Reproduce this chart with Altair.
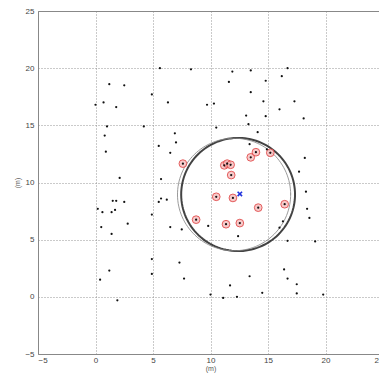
import altair as alt
import pandas as pd

# black dots (all nodes)
dot_x = [0.0, 0.7, 1.2, 2.5, 1.8, 1.0, 0.8, 0.9, 2.1, 0.2, 0.6, 1.5, 1.8, 1.4, 1.7, 2.5, 0.5, 2.8, 1.4, 1.2, 0.4, 1.9,
         4.9, 5.6, 4.2, 6.3, 6.9, 7.0, 5.5, 6.5, 5.7, 4.9, 5.5, 5.7, 6.2, 6.5, 7.5, 4.9, 4.9, 7.3, 7.7,
         8.3, 9.7, 10.3, 10.5, 9.8, 10.0, 11.1, 12.3, 11.7, 13.4, 14.5, 12.4, 13.4, 13.3, 13.1, 14.1, 13.5,
         13.5, 11.9, 11.6, 14.6, 14.8, 14.8, 16.0, 16.2, 16.7, 17.3, 18.1, 18.2, 17.7, 18.3, 18.4, 18.6,
         19.1, 16.7, 16.3, 16.0, 16.4, 16.7, 17.5, 17.5, 19.8, 14.9]
dot_y = [16.8, 17.0, 18.6, 18.5, 16.6, 14.9, 14.1, 12.7, 10.4, 7.7, 7.4, 8.4, 8.4, 7.4, 7.6, 8.3, 6.1, 6.4, 5.5, 2.3, 1.5, -0.3,
         17.7, 20.0, 14.9, 17.0, 14.3, 13.5, 13.2, 12.6, 10.3, 7.2, 8.3, 8.6, 8.5, 6.1, 5.9, 3.3, 2.0, 3.0, 1.6,
         19.9, 16.8, 16.9, 14.8, 6.2, 0.2, -0.1, 0.0, 1.0, 1.8, 0.35, 5.3, 13.35, 15.1, 15.85, 14.4, 17.9,
         19.8, 19.7, 18.8, 17.1, 18.9, 15.8, 16.4, 19.3, 20.0, 17.1, 15.6, 12.15, 10.95, 9.2, 7.7, 6.9,
         4.85, 4.9, 6.6, 6.05, 2.4, 1.6, 1.1, 0.3, 0.2, 12.9]

# nodes inside the estimated region (red circles)
red_x = [7.6, 8.75, 10.5, 11.2, 11.45, 11.75, 11.8, 11.95, 11.35, 12.55, 13.5, 13.95, 15.2, 14.15, 16.45]
red_y = [11.65, 6.75, 8.75, 11.5, 11.65, 11.55, 10.65, 8.65, 6.35, 6.45, 12.2, 12.65, 12.6, 7.8, 8.1]

# estimated position (blue x)
est_x = [12.55]
est_y = [9.0]

# circles: thick black and thin grey
circle_cx = [12.4, 12.05]
circle_cy = [8.95, 8.95]
circle_r = [4.95, 4.92]
circle_color = ["#222222", "#888888"]
circle_width = [2.0, 1.0]

ticks = [-5, 0, 5, 10, 15, 20, 25]

xs = alt.Scale(domain=[-5, 25], nice=False, zero=False)
ys = alt.Scale(domain=[-5, 25], nice=False, zero=False)

axis_common = dict(
    values=ticks, grid=True, gridDash=[1, 2], gridColor="#8a8a8a", gridOpacity=0.9,
    tickSize=0, domain=False, labelFontSize=8, labelColor="#444444",
    titleFontSize=7, titleColor="#555555", titleFontWeight="normal",
    labelFont="Liberation Sans", titleFont="Liberation Sans",
)

xax = alt.Axis(title="(m)", labelPadding=2, titlePadding=0, **axis_common)
yax = alt.Axis(title="(m)", labelPadding=4, titlePadding=4, **axis_common)

dots = pd.DataFrame({"x": dot_x + red_x, "y": dot_y + red_y})
reds = pd.DataFrame({"x": red_x, "y": red_y})
est = pd.DataFrame({"x": est_x, "y": est_y})

base_dots = alt.Chart(dots).mark_circle(size=5, color="#111111", opacity=1).encode(
    x=alt.X("x:Q", scale=xs, axis=xax),
    y=alt.Y("y:Q", scale=ys, axis=yax),
)

layers = []
for cx, cy, r, col, w in zip(circle_cx, circle_cy, circle_r, circle_color, circle_width):
    c = alt.Chart(alt.sequence(0, 6.35, 0.05, as_="t")).transform_calculate(
        cx=f"{cx} + {r} * cos(datum.t)",
        cy=f"{cy} + {r} * sin(datum.t)",
    ).mark_line(color=col, strokeWidth=w, opacity=0.85).encode(
        x=alt.X("cx:Q", scale=xs, axis=xax),
        y=alt.Y("cy:Q", scale=ys, axis=yax),
        order="t:Q",
    )
    layers.append(c)

red_layer = alt.Chart(reds).mark_point(
    shape="circle", size=60, filled=True, fill="#f4b4b4", fillOpacity=0.7,
    stroke="#e04848", strokeWidth=1.0, strokeOpacity=0.85, opacity=1,
).encode(x=alt.X("x:Q", scale=xs, axis=xax), y=alt.Y("y:Q", scale=ys, axis=yax))

est_layer = alt.Chart(est).mark_point(
    shape="M-1,-1L1,1M-1,1L1,-1", size=20, filled=False, stroke="#2233dd",
    strokeWidth=1.6, opacity=1,
).encode(x=alt.X("x:Q", scale=xs, axis=xax), y=alt.Y("y:Q", scale=ys, axis=yax))

chart = alt.layer(*layers, red_layer, base_dots, est_layer).properties(
    width=345, height=343,
    autosize=alt.AutoSizeParams(type="none"),
    padding={"left": 30, "top": 3, "right": -4, "bottom": 19},
    background="white",
).configure_view(stroke="#888888", strokeWidth=1)

chart.save("out.html", embed_options={"renderer": "svg", "actions": False})
